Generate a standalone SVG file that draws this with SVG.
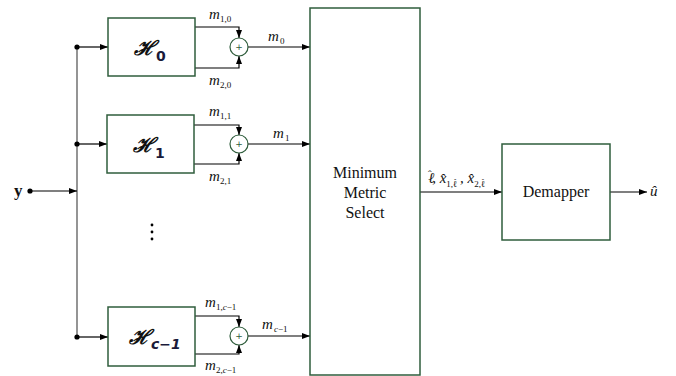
<svg xmlns="http://www.w3.org/2000/svg" width="676" height="376" viewBox="0 0 676 376">
<style>
.box{fill:#fff;stroke:#2f5d3c;stroke-width:1.5}
.sum{fill:#fff;stroke:#2f5d3c;stroke-width:1.2}
.plus{font-family:"DejaVu Sans",sans-serif;font-size:9px;fill:#2f5d3c;text-anchor:middle}
.ln{fill:none;stroke:#000;stroke-width:1.2}
.bus{fill:none;stroke:#7a7a7a;stroke-width:1.6}
.dot{fill:#000}
.H{font-family:"DejaVu Serif",serif;font-style:italic;font-weight:bold;font-size:20px;fill:#111}
.Hs{font-family:"DejaVu Sans",sans-serif;font-weight:bold;font-size:14px;fill:#1a1a3a}
.m{font-family:"Liberation Serif",serif;font-style:italic;font-size:15px;fill:#111}
.ms{font-family:"Liberation Serif",serif;font-size:9px;fill:#111}
.t{font-family:"Liberation Serif",serif;font-size:16px;fill:#111;text-anchor:middle}
</style>
<defs>
<marker id="ah" markerUnits="userSpaceOnUse" markerWidth="8" markerHeight="6" refX="8" refY="3" orient="auto">
<path d="M0,0 L8,3 L0,6 z" fill="#000"/>
</marker>
</defs>
<g id="connectors">
<path class="bus" d="M77,47 V337"/>
<path class="ln" d="M30,191 H77" marker-end="url(#ah)"/>
<path class="ln" d="M77,47 H108" marker-end="url(#ah)"/>
<path class="ln" d="M77,144 H107" marker-end="url(#ah)"/>
<path class="ln" d="M77,337 H108" marker-end="url(#ah)"/>
<path class="ln" d="M195,27 H239 V38" marker-end="url(#ah)"/>
<path class="ln" d="M195,68 H239 V56" marker-end="url(#ah)"/>
<path class="ln" d="M248,47 H310" marker-end="url(#ah)"/>
<path class="ln" d="M194,125 H239 V135" marker-end="url(#ah)"/>
<path class="ln" d="M194,164 H239 V153" marker-end="url(#ah)"/>
<path class="ln" d="M248,144 H310" marker-end="url(#ah)"/>
<path class="ln" d="M195,316 H239 V327" marker-end="url(#ah)"/>
<path class="ln" d="M195,354 H239 V345" marker-end="url(#ah)"/>
<path class="ln" d="M248,336 H310" marker-end="url(#ah)"/>
<path class="ln" d="M420,192 H502" marker-end="url(#ah)"/>
<path class="ln" d="M610,192 H647" marker-end="url(#ah)"/>
<circle class="dot" cx="30" cy="191" r="2.6"/>
<circle class="dot" cx="77" cy="47" r="2.6"/>
<circle class="dot" cx="77" cy="144" r="2.6"/>
<circle class="dot" cx="77" cy="337" r="2.6"/>
</g>
<g id="input-y"><text x="14" y="196" font-family="Liberation Serif,serif" font-weight="bold" font-size="17" fill="#111">y</text></g>
<g id="H0">
<rect class="box" x="108" y="18" width="87" height="58"/>
<text class="H" x="134" y="55">ℋ</text><text class="Hs" x="156" y="61">0</text>
</g>
<g id="H1">
<rect class="box" x="107" y="115" width="87" height="58"/>
<text class="H" x="133" y="152">ℋ</text><text class="Hs" x="155" y="158">1</text>
</g>
<g id="dots">
<circle class="dot" cx="152" cy="225" r="1.4"/>
<circle class="dot" cx="152" cy="232" r="1.4"/>
<circle class="dot" cx="152" cy="239" r="1.4"/>
</g>
<g id="Hc1">
<rect class="box" x="108" y="307" width="87" height="59"/>
<text class="H" x="129" y="344">ℋ</text><text class="Hs" x="151" y="349" font-style="italic">c−1</text>
</g>
<g id="sum0"><circle class="sum" cx="239" cy="47" r="9"/><text class="plus" x="239" y="50">+</text></g>
<g id="sum1"><circle class="sum" cx="239" cy="144" r="9"/><text class="plus" x="239" y="147">+</text></g>
<g id="sumc1"><circle class="sum" cx="239" cy="336" r="9"/><text class="plus" x="239" y="339">+</text></g>
<g id="labels">
<text class="m" x="209" y="19">m</text><text class="ms" x="220" y="22">1,0</text>
<text class="m" x="209" y="85">m</text><text class="ms" x="220" y="88">2,0</text>
<text class="m" x="268" y="41">m</text><text class="ms" x="280" y="44">0</text>
<text class="m" x="209" y="116">m</text><text class="ms" x="220" y="119">1,1</text>
<text class="m" x="209" y="181">m</text><text class="ms" x="220" y="184">2,1</text>
<text class="m" x="273" y="138">m</text><text class="ms" x="285" y="141">1</text>
<text class="m" x="205" y="307">m</text><text class="ms" x="216" y="310">1,<tspan font-style="italic">c</tspan>−1</text>
<text class="m" x="205" y="370">m</text><text class="ms" x="216" y="373">2,<tspan font-style="italic">c</tspan>−1</text>
<text class="m" x="262" y="329">m</text><text class="ms" x="274" y="332"><tspan font-style="italic">c</tspan>−1</text>
</g>
<g id="select">
<rect class="box" x="310" y="8" width="110" height="367"/>
<text class="t" x="365" y="178">Minimum</text>
<text class="t" x="365" y="198">Metric</text>
<text class="t" x="365" y="218">Select</text>
</g>
<g id="sel-label">
<text class="m" x="428" y="183">ℓ<tspan font-size="11" font-style="normal" dx="-6.5" dy="-5">ˆ</tspan><tspan dy="5" dx="0.5">, x̂</tspan><tspan class="ms" dy="4" font-style="normal">1,ℓ<tspan font-size="7" dx="-3.5" dy="-4">ˆ</tspan></tspan><tspan dy="0"> , x̂</tspan><tspan class="ms" dy="4" font-style="normal">2,ℓ<tspan font-size="7" dx="-3.5" dy="-4">ˆ</tspan></tspan></text>
</g>
<g id="demapper">
<rect class="box" x="502" y="144" width="108" height="96"/>
<text class="t" x="556" y="197">Demapper</text>
</g>
<g id="output"><text class="m" x="650" y="196">û</text></g>
</svg>
